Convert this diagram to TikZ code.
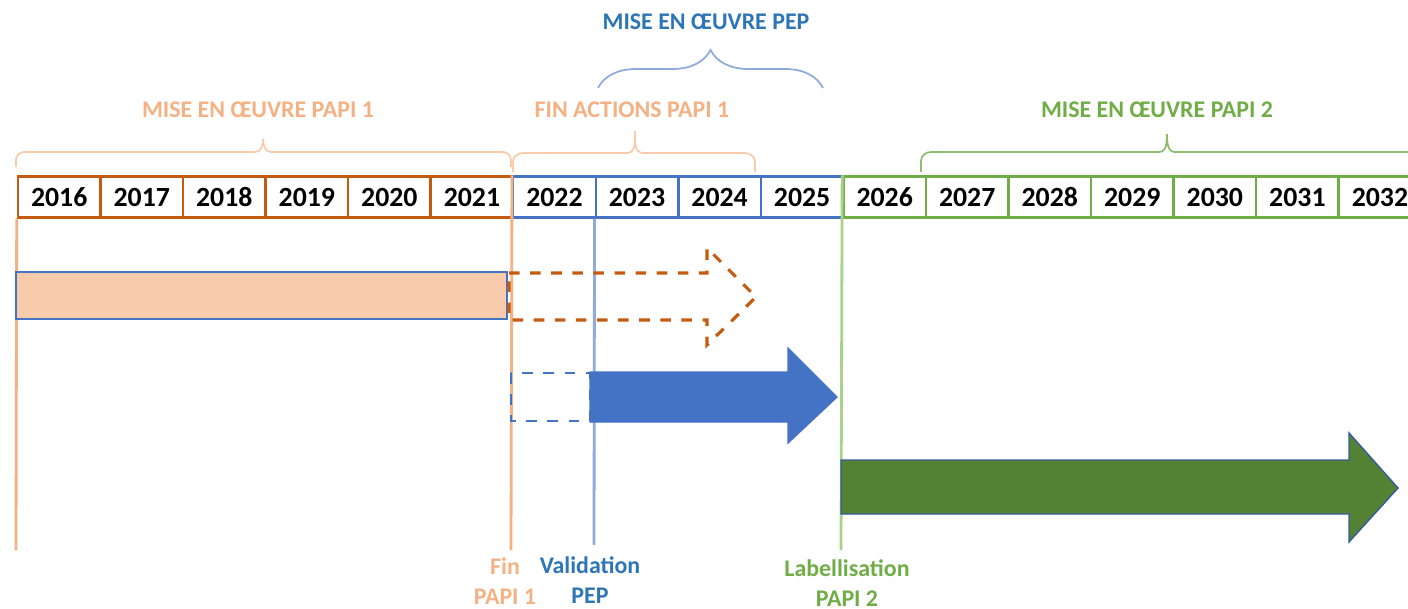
\documentclass[tikz,border=0pt]{standalone}
\usepackage{fontspec}
\setmainfont{Carlito}
\usepackage{xcolor}
\usepackage{tikz}
\usetikzlibrary{positioning, matrix, decorations.pathreplacing}

\definecolor{papidark}{HTML}{C55A11}
\definecolor{papilight}{HTML}{F4B183}
\definecolor{papifill}{HTML}{F8CBAD}
\definecolor{pepblue}{HTML}{4472C4}
\definecolor{peptext}{HTML}{2E75B6}
\definecolor{peplight}{HTML}{8FAADC}
\definecolor{papitwo}{HTML}{70AD47}
\definecolor{papitwolight}{HTML}{A9D18E}
\definecolor{papitwofill}{HTML}{548235}

\begin{document}
\begin{tikzpicture}[x=0.01cm, y=-0.01cm,
    yearcell/.style={draw=papidark, line width=0.7pt, minimum width=0.825cm, minimum height=0.41cm,
        inner sep=0pt, anchor=center, font=\fontsize{7.9}{9}\selectfont\bfseries},
    pepcell/.style={draw=pepblue},
    twocell/.style={draw=papitwo},
    title/.style={font=\fontsize{6.8}{8}\selectfont\bfseries, inner sep=0pt},
    marker/.style={font=\fontsize{6.8}{8.5}\selectfont\bfseries, align=center, inner sep=0pt},
    phase/.style={decorate, decoration={brace, amplitude=#1}, line width=0.5pt},
    phaseline/.style={line width=0.5pt},
    stage/.style={line width=0.8pt},
    ]
\useasboundingbox (0,0) rectangle (1408,609);

% vertical milestones
\coordinate (start) at (16,550);
\coordinate (finend) at (511,550);
\coordinate (valend) at (594,545);
\coordinate (labend) at (841,550);

\matrix [matrix of nodes, inner sep=0pt, anchor=west,
    nodes={yearcell},
    column sep=-0.7pt,
    ] (years) at (16,197) {
    2016 & 2017 & 2018 & 2019 & 2020 & 2021 &
    |[pepcell]| 2022 & |[pepcell]| 2023 & |[pepcell]| 2024 & |[pepcell]| 2025 &
    |[twocell]| 2026 & |[twocell]| 2027 & |[twocell]| 2028 & |[twocell]| 2029 &
    |[twocell]| 2030 & |[twocell]| 2031 & |[twocell]| 2032 \\
};

\draw[stage, papilight] (years-1-1.south west) -- (start);
\draw[stage, papilight] (years-1-7.north west) -- (finend);
\draw[stage, peplight] (years-1-8.south west) -- (valend);
\draw[stage, papitwolight] (years-1-11.north west) -- (labend);

% phases
\draw[phaseline, papifill] (16,167) -- (16,160) to[out=90,in=180] (24,152) -- (255,152)
    to[out=0,in=-90] (263,139) to[out=-90,in=180] (271,152) -- (503,152)
    to[out=0,in=90] (511,160) -- (511,167);
\draw[phaseline, papifill] (513,172) -- (513,162) to[out=90,in=180] (523,153) -- (627,153)
    to[out=0,in=-90] (635,131) to[out=-90,in=180] (643,153) -- (745,153)
    to[out=0,in=90] (755,162) -- (755,172);
\draw[phase=0.38cm, peplight] (598,88) -- (823,88);
\draw[phaseline, papitwo!80] (921,172) -- (921,161) to[out=90,in=180] (931,152) -- (1159,152)
    to[out=0,in=-90] (1167,134) to[out=-90,in=180] (1175,152) -- (1420,152);

\node[title, papilight] (papione) at (258,110) {MISE EN ŒUVRE PAPI 1};
\node[title, papilight] (finactions) at (632,110) {FIN ACTIONS PAPI 1};
\node[title, peptext] (pep) at (706,22) {MISE EN ŒUVRE PEP};
\node[title, papitwo] (papitwo) at (1157,110) {MISE EN ŒUVRE PAPI 2};

% bars
\draw[fill=papifill, draw=pepblue, line width=0.6pt] (16,272) rectangle (507,319);
\draw[papidark, dashed, line width=0.9pt] (509,273) -- (707,273) -- (707,248) -- (756,297)
    -- (707,345) -- (707,320) -- (509,320) -- cycle;
\draw[pepblue, dashed, line width=0.8pt] (511,373) rectangle (590,421);
\draw[fill=pepblue, draw=pepblue] (590,372) -- (788,372) -- (788,348) -- (837,397)
    -- (788,443) -- (788,422) -- (590,422) -- cycle;
\draw[fill=papitwofill, draw=pepblue!80!black, line width=0.4pt] (841,460) -- (1349,460)
    -- (1349,433) -- (1398,488) -- (1349,542) -- (1349,514) -- (841,514) -- cycle;

% milestone labels
\node[marker, papilight] (finpapi) at (505,581) {Fin\\PAPI 1};
\node[marker, peptext] (valpep) at (590,580) {Validation\\PEP};
\node[marker, papitwo] (labpapi) at (847,583) {Labellisation\\PAPI 2};
\end{tikzpicture}
\end{document}
